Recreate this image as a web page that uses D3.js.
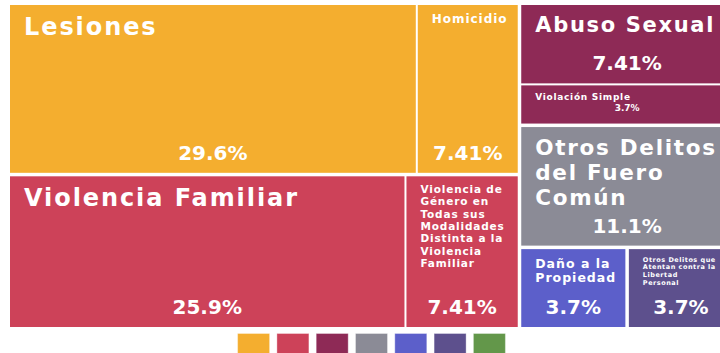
<!DOCTYPE html>
<html>
<head>
<meta charset="utf-8">
<script src="https://cdn.jsdelivr.net/npm/d3@7"></script>
<style>
  html, body { margin: 0; padding: 0; background: #fff; overflow: hidden; }
  svg { display: block; }
  .name, .pct { fill: #fff; font-family: "DejaVu Sans", sans-serif; font-weight: bold; }
</style>
</head>
<body>
<svg id="chart" width="720" height="353"></svg>
<script>
// Casos registrados por tipo de delito
const categories = [
  "Lesiones",
  "Homicidio",
  "Violencia Familiar",
  "Violencia de Género en Todas sus Modalidades Distinta a la Violencia Familiar",
  "Abuso Sexual",
  "Violación Simple",
  "Otros Delitos del Fuero Común",
  "Daño a la Propiedad",
  "Otros Delitos que Atentan contra la Libertad Personal"
];
const values = [8, 2, 7, 2, 2, 1, 3, 1, 1];
// colour group of every category (index into groupColors)
const groupOf = [0, 0, 1, 1, 2, 2, 3, 4, 5];
const groupColors = ["#f4ae2f", "#cd4259", "#8e2a56", "#8b8b96", "#5c5fca", "#5d508d", "#63974a"];

// How the colour groups share the plot: two columns, the right one split in rows
const arrangement = {
  axis: "x",
  parts: [
    { axis: "y", parts: [0, 1] },
    { axis: "y", parts: [2, 3, { axis: "x", parts: [4, 5] }] }
  ]
};
// direction in which each group divides among its own categories
const groupSplit = ["x", "x", "y", "y", "y", "y", "y"];

const svg = d3.select("#chart");
const viewWidth = +svg.attr("width");
const plot = { left: 10, top: 5, width: 723, height: 322 };

const groups = groupColors.map((color, g) => ({
  group: g,
  color,
  children: categories
    .map((name, i) => ({ name, value: values[i], group: groupOf[i] }))
    .filter(d => d.group === g)
})).filter(g => g.children.length);

const root = d3.hierarchy({ children: groups }).sum(d => d.value || 0);
const total = root.value;

function planValue(p, byGroup) {
  if (typeof p === "number") return byGroup.has(p) ? byGroup.get(p).value : 0;
  return d3.sum(p.parts, q => planValue(q, byGroup));
}
function placePlan(p, byGroup, x0, y0, x1, y1) {
  if (typeof p === "number") {
    const n = byGroup.get(p);
    if (n) { n.x0 = x0; n.y0 = y0; n.x1 = x1; n.y1 = y1; }
    return;
  }
  const sum = planValue(p, byGroup);
  const span = p.axis === "x" ? x1 - x0 : y1 - y0;
  let pos = p.axis === "x" ? x0 : y0;
  for (const q of p.parts) {
    const len = sum ? span * planValue(q, byGroup) / sum : 0;
    if (p.axis === "x") placePlan(q, byGroup, pos, y0, pos + len, y1);
    else placePlan(q, byGroup, x0, pos, x1, pos + len);
    pos += len;
  }
}
function arrangedTile(node, x0, y0, x1, y1) {
  if (node.depth === 0) {
    const byGroup = new Map(node.children.map(c => [c.data.group, c]));
    placePlan(arrangement, byGroup, x0, y0, x1, y1);
  } else {
    const tile = groupSplit[node.data.group] === "x" ? d3.treemapDice : d3.treemapSlice;
    tile(node, x0, y0, x1, y1);
  }
}

d3.treemap()
  .tile(arrangedTile)
  .size([plot.width, plot.height])
  .paddingInner(d => d.depth === 0 ? 3.5 : 2)
  (root);

const g = svg.append("g").attr("transform", `translate(${plot.left},${plot.top})`);
const leaves = root.leaves();
const colorOf = d => groupColors[d.data.group];

g.selectAll("rect.cell")
  .data(leaves)
  .join("rect")
  .attr("class", "cell")
  .attr("x", d => d.x0)
  .attr("y", d => d.y0)
  .attr("width", d => d.x1 - d.x0)
  .attr("height", d => d.y1 - d.y0)
  .attr("fill", colorOf);

// ---- label fitting ----
const SPACING = 0.08;       // letter-spacing of names, in em
const NAME_MAX = 24, NAME_MIN = 5;
const PCT = 20, PAD_X = 14, PAD_RIGHT = 10, PAD_TOP = 6, PCT_BOTTOM = 13, LINE = 1.18, GAP = 4;
const visibleRight = viewWidth - plot.left - 4;   // names stay inside the view

// measure with a hidden svg text so widths match what gets drawn
const probe = svg.append("text").attr("class", "name").attr("x", -1000).attr("y", -1000)
  .style("letter-spacing", SPACING + "em");
const probeNode = probe.node();
function textWidth(str, size) {
  probe.style("font-size", size + "px").text(str);
  return probeNode.getComputedTextLength() - SPACING * size;
}
function wrap(text, size, maxW) {
  const words = text.split(/\s+/);
  const lines = [];
  let line = "";
  for (const w of words) {
    if (textWidth(w, size) > maxW) return null;
    const t = line ? line + " " + w : w;
    if (!line || textWidth(t, size) <= maxW) line = t;
    else { lines.push(line); line = w; }
  }
  if (line) lines.push(line);
  return lines;
}
function fitLabel(d) {
  const h = d.y1 - d.y0;
  const maxW = Math.min(d.x1 - PAD_RIGHT, visibleRight) - (d.x0 + PAD_X);
  const pctTop = h - PCT_BOTTOM - PCT * 0.73;
  for (let s = NAME_MAX; s >= NAME_MIN; s -= 0.5) {
    const lines = wrap(d.data.name, s, maxW);
    if (!lines) continue;
    const bottom = PAD_TOP + s + (lines.length - 1) * s * LINE + s * 0.24;
    if (bottom + GAP <= pctTop) return { compact: false, size: s, lines, pctSize: PCT };
  }
  // small cell: name and value as two short lines
  for (let s = NAME_MAX; s >= NAME_MIN; s -= 0.5) {
    const lines = wrap(d.data.name, s, maxW);
    if (!lines) continue;
    if (PAD_TOP + s + (lines.length - 1) * s * LINE + s * 1.2 + 12 <= h)
      return { compact: true, size: s, lines, pctSize: s };
  }
  return { compact: true, size: NAME_MIN, lines: [d.data.name], pctSize: NAME_MIN };
}

const fmtPct = d3.format(".3~p");
const fits = leaves.map(fitLabel);
probe.remove();

leaves.forEach((d, k) => {
  const fit = fits[k];
  const cell = g.append("g");
  const firstBase = d.y0 + PAD_TOP + fit.size;
  const name = cell.append("text")
    .attr("class", "name")
    .attr("x", d.x0 + PAD_X)
    .attr("y", firstBase)
    .style("font-size", fit.size + "px")
    .style("letter-spacing", SPACING + "em");
  name.selectAll("tspan")
    .data(fit.lines)
    .join("tspan")
    .attr("x", d.x0 + PAD_X)
    .attr("y", (l, i) => firstBase + i * fit.size * LINE)
    .text(l => l);

  const pctY = fit.compact
    ? firstBase + (fit.lines.length - 1) * fit.size * LINE + fit.size * 1.2
    : d.y1 - PCT_BOTTOM;
  cell.append("text")
    .attr("class", "pct")
    .attr("x", (d.x0 + d.x1) / 2)
    .attr("y", pctY)
    .attr("text-anchor", "middle")
    .style("font-size", fit.pctSize + "px")
    .text(fmtPct(d.value / total));
});

// ---- legend ----
const sw = 32, step = 39.3;
const legendX = plot.left + plot.width / 2 - (groupColors.length * step - (step - sw)) / 2;
svg.append("g")
  .selectAll("rect")
  .data(groupColors)
  .join("rect")
  .attr("x", (c, i) => legendX + i * step)
  .attr("y", 333.5)
  .attr("width", sw)
  .attr("height", sw)
  .attr("fill", c => c)
  .attr("stroke", "rgba(255,255,255,0.35)")
  .attr("stroke-width", 1);
</script>
</body>
</html>
